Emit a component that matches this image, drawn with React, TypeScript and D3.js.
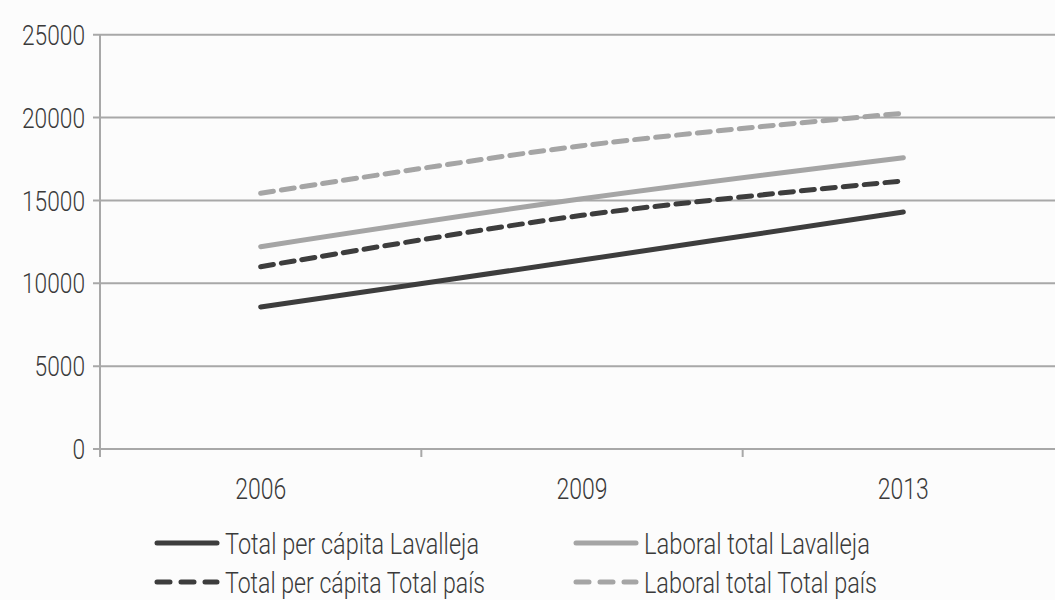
import React from "react";
import * as d3 from "d3";

const years = ["2006", "2009", "2013"];
const yTicks = [0, 5000, 10000, 15000, 20000, 25000];

const totalPerCapitaLavalleja = [8570, 11400, 14300];
const laboralTotalLavalleja = [12210, 15100, 17580];
const totalPerCapitaPais = [11000, 14100, 16180];
const laboralTotalPais = [15430, 18300, 20260];

const seriesNames = [
  "Total per cápita Lavalleja",
  "Laboral total Lavalleja",
  "Total per cápita Total país",
  "Laboral total Total país",
];

const W = 1055;
const H = 600;
const FONT = "Roboto, 'Noto Sans', sans-serif";
const DARK = "#3d3d3d";
const LIGHT = "#a5a5a5";
const GRID = "#a8a8a8";
const TEXT = "#3a3a3a";

export default function App() {
  const x = d3.scaleBand<string>().domain(years).range([100, 1064]);
  const y = d3.scaleLinear().domain([0, 25000]).range([449, 34.7]);
  const cx = (d: string) => (x(d) as number) + x.bandwidth() / 2;

  const line = d3
    .line<number>()
    .x((_, i) => cx(years[i]))
    .y((v) => y(v))
    .curve(d3.curveCatmullRom.alpha(0.5));

  const series = [
    { name: seriesNames[0], values: totalPerCapitaLavalleja, color: DARK, dash: null, tl: 254 },
    { name: seriesNames[1], values: laboralTotalLavalleja, color: LIGHT, dash: null, tl: 226 },
    { name: seriesNames[2], values: totalPerCapitaPais, color: DARK, dash: "13 8", tl: 260 },
    { name: seriesNames[3], values: laboralTotalPais, color: LIGHT, dash: "13 8", tl: 233 },
  ];

  const bandEdges = years.map((d) => x(d) as number).concat([x.range()[1]]);

  const legendPos = [
    { sx: 155, sy: 543 },
    { sx: 574, sy: 543 },
    { sx: 155, sy: 582 },
    { sx: 574, sy: 582 },
  ];

  return (
    <svg
      width={W}
      height={H}
      style={{ position: "absolute", left: 0, top: 0, display: "block" }}
      fontFamily={FONT}
      fontWeight={300}
    >
      <rect x={0} y={0} width={W} height={H} fill="#fcfcfc" />
      {yTicks.map((t) => (
        <line key={"g" + t} x1={93} x2={1064} y1={y(t)} y2={y(t)} stroke={GRID} strokeWidth={2} />
      ))}
      <line x1={100} x2={100} y1={y(25000)} y2={y(0)} stroke={GRID} strokeWidth={2} />
      {bandEdges.map((e, i) => (
        <line key={"xt" + i} x1={e} x2={e} y1={y(0)} y2={y(0) + 8} stroke={GRID} strokeWidth={2} />
      ))}
      {yTicks.map((t) => {
        const s = String(t);
        return (
          <text
            key={"yl" + t}
            x={85}
            y={y(t)}
            dy="0.36em"
            textAnchor="end"
            fontSize={28}
            fill={TEXT}
            textLength={s.length * 12.6}
            lengthAdjust="spacingAndGlyphs"
          >
            {s}
          </text>
        );
      })}
      {years.map((d) => (
        <text
          key={"xl" + d}
          x={cx(d)}
          y={499}
          textAnchor="middle"
          fontSize={29}
          fill={TEXT}
          textLength={51}
          lengthAdjust="spacingAndGlyphs"
        >
          {d}
        </text>
      ))}
      {series.map((s) => (
        <path
          key={s.name}
          d={line(s.values) as string}
          fill="none"
          stroke={s.color}
          strokeWidth={5}
          strokeLinecap="round"
          strokeDasharray={s.dash ?? undefined}
        />
      ))}
      {series.map((s, i) => {
        const p = legendPos[i];
        return (
          <g key={"lg" + i}>
            <line
              x1={p.sx + 2}
              x2={p.sx + 62}
              y1={p.sy}
              y2={p.sy}
              stroke={s.color}
              strokeWidth={5}
              strokeLinecap="round"
              strokeDasharray={s.dash ? "13 11" : undefined}
            />
            <text
              x={p.sx + 70}
              y={p.sy}
              dy="0.36em"
              fontSize={30}
              fill={TEXT}
              textLength={s.tl}
              lengthAdjust="spacingAndGlyphs"
            >
              {s.name}
            </text>
          </g>
        );
      })}
    </svg>
  );
}
